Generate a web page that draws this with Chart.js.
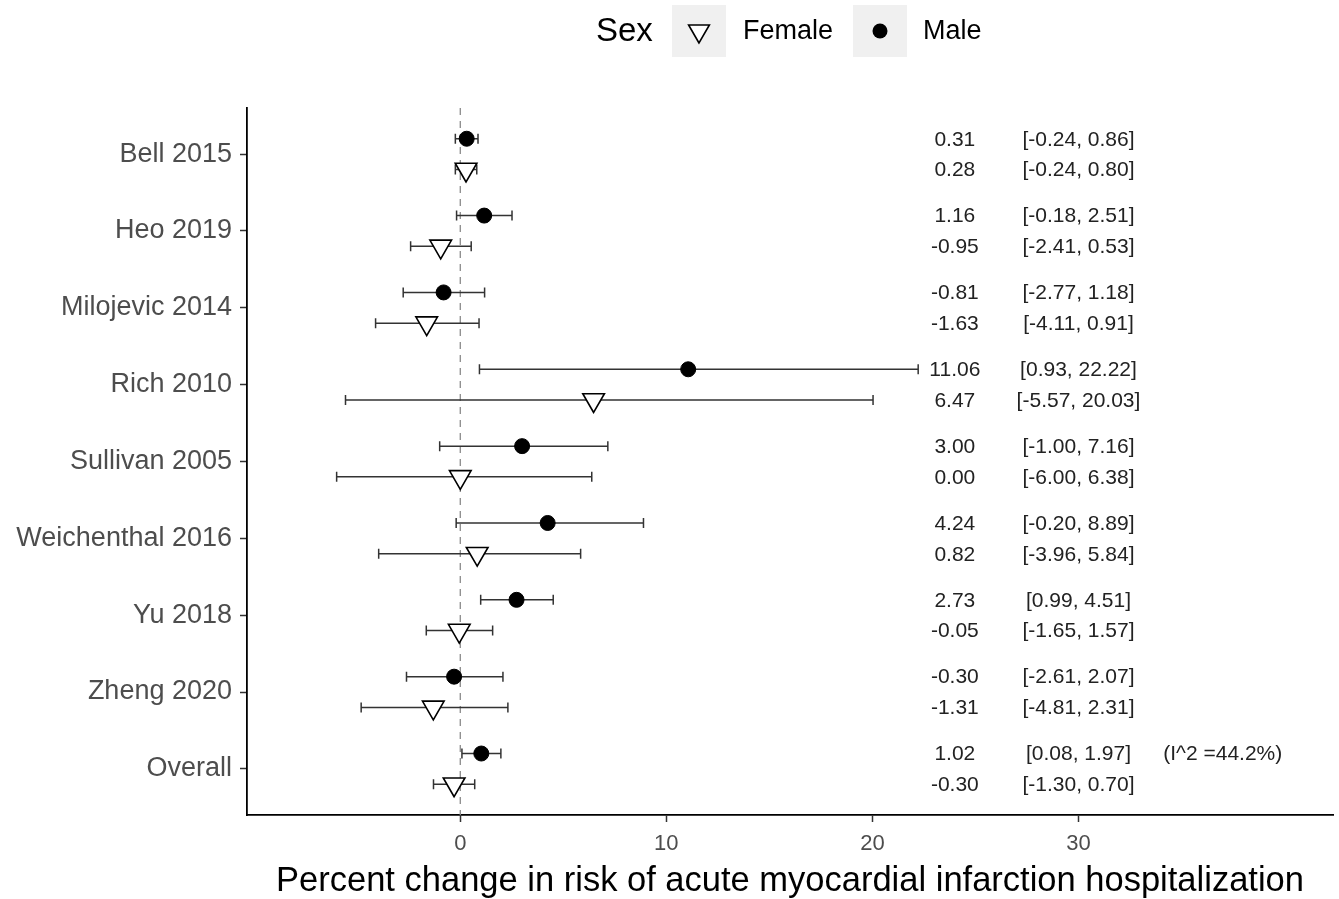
<!DOCTYPE html>
<html><head><meta charset="utf-8">
<script src="https://cdn.jsdelivr.net/npm/chart.js@4.4.1/dist/chart.umd.min.js"></script>
<style>html,body{margin:0;padding:0;background:#fff}#wrap{width:1339px;height:899px;position:relative}</style>
</head><body><div id="wrap"><canvas id="c" width="1339" height="899"></canvas></div>
<script>
const studies = ['Bell 2015','Heo 2019','Milojevic 2014','Rich 2010','Sullivan 2005','Weichenthal 2016','Yu 2018','Zheng 2020','Overall'];
const maleEst  = [0.31, 1.16, -0.81, 11.06, 3.00, 4.24, 2.73, -0.30, 1.02];
const maleLow  = [-0.24, -0.18, -2.77, 0.93, -1.00, -0.20, 0.99, -2.61, 0.08];
const maleHigh = [0.86, 2.51, 1.18, 22.22, 7.16, 8.89, 4.51, 2.07, 1.97];
const femaleEst  = [0.28, -0.95, -1.63, 6.47, 0.00, 0.82, -0.05, -1.31, -0.30];
const femaleLow  = [-0.24, -2.41, -4.11, -5.57, -6.00, -3.96, -1.65, -4.81, -1.30];
const femaleHigh = [0.80, 0.53, 0.91, 20.03, 6.38, 5.84, 1.57, 2.31, 0.70];
const xTicks = [0, 10, 20, 30];
const refValue = 0;
const heterogeneity = '(I^2 =44.2%)';
const legendTitle = 'Sex';
const legendLabels = ['Female', 'Male'];
const xTitle = 'Percent change in risk of acute myocardial infarction hospitalization';

const FONT = '"Liberation Sans", Arial, Helvetica, sans-serif';
const OFF = 0.2;
const fmt = v => v.toFixed(2);
const ci = (lo, hi) => '[' + fmt(lo) + ', ' + fmt(hi) + ']';

const errorBars = {
  id: 'errorBars',
  afterDatasetDraw(chart, args) {
    if (args.index !== 2) return;
    const x = chart.scales.x, y = chart.scales.y, ctx = chart.ctx;
    ctx.save();
    ctx.strokeStyle = '#333';
    ctx.lineWidth = 1.5;
    const draw = (lo, hi, yv) => {
      const x1 = x.getPixelForValue(lo), x2 = x.getPixelForValue(hi), py = y.getPixelForValue(yv);
      ctx.beginPath();
      ctx.moveTo(x1, py); ctx.lineTo(x2, py);
      ctx.moveTo(x1, py - 5); ctx.lineTo(x1, py + 5);
      ctx.moveTo(x2, py - 5); ctx.lineTo(x2, py + 5);
      ctx.stroke();
    };
    studies.forEach((s, i) => {
      draw(maleLow[i], maleHigh[i], i - OFF);
      draw(femaleLow[i], femaleHigh[i], i + OFF);
    });
    ctx.restore();
  }
};

const annotations = {
  id: 'annotations',
  afterDraw(chart) {
    const x = chart.scales.x, y = chart.scales.y, ctx = chart.ctx;
    ctx.save();
    ctx.font = '21px ' + FONT;
    ctx.fillStyle = '#222';
    ctx.textAlign = 'center';
    ctx.textBaseline = 'middle';
    studies.forEach((s, i) => {
      const ym = y.getPixelForValue(i - OFF) + 1, yf = y.getPixelForValue(i + OFF) + 1;
      ctx.fillText(fmt(maleEst[i]), x.getPixelForValue(24), ym);
      ctx.fillText(ci(maleLow[i], maleHigh[i]), x.getPixelForValue(30), ym);
      ctx.fillText(fmt(femaleEst[i]), x.getPixelForValue(24), yf);
      ctx.fillText(ci(femaleLow[i], femaleHigh[i]), x.getPixelForValue(30), yf);
    });
    ctx.fillText(heterogeneity, x.getPixelForValue(37), y.getPixelForValue(studies.length - 1 - OFF) + 1);

    // legend
    const cy = 31;
    ctx.textAlign = 'left';
    ctx.fillStyle = '#000';
    ctx.font = '33px ' + FONT;
    ctx.fillText(legendTitle, 596, cy + 1);
    ctx.fillStyle = '#f0f0f0';
    ctx.fillRect(672, 5, 54, 52);
    ctx.fillRect(853, 5, 54, 52);
    const r = 12;
    ctx.beginPath();
    for (let k = 0; k < 3; k++) {
      const a = Math.PI + k * 2 * Math.PI / 3;
      const px = 699 + Math.sin(a) * r, py = cy - Math.cos(a) * r;
      if (k === 0) ctx.moveTo(px, py); else ctx.lineTo(px, py);
    }
    ctx.closePath();
    ctx.fillStyle = '#fff';
    ctx.fill();
    ctx.strokeStyle = '#000';
    ctx.lineWidth = 1.6;
    ctx.stroke();
    ctx.beginPath();
    ctx.arc(880, cy, 7.5, 0, Math.PI * 2);
    ctx.fillStyle = '#000';
    ctx.fill();
    ctx.font = '27px ' + FONT;
    ctx.fillText(legendLabels[0], 743, cy + 1);
    ctx.fillText(legendLabels[1], 923, cy + 1);
    ctx.restore();
  }
};

new Chart(document.getElementById('c'), {
  type: 'scatter',
  data: {
    datasets: [
      {
        label: 'Male',
        data: studies.map((s, i) => ({ x: maleEst[i], y: i - OFF })),
        pointStyle: 'circle', pointRadius: 7.5,
        backgroundColor: '#000', borderColor: '#000', borderWidth: 1, order: 0
      },
      {
        label: 'Female',
        data: studies.map((s, i) => ({ x: femaleEst[i], y: i + OFF })),
        pointStyle: 'triangle', pointRotation: 180, pointRadius: 12.5,
        backgroundColor: '#fff', borderColor: '#000', borderWidth: 1.6, order: 1
      },
      {
        label: 'ref',
        data: [{ x: refValue, y: -0.6 }, { x: refValue, y: studies.length - 0.4 }],
        showLine: true, pointRadius: 0, borderColor: '#8a8a8a', borderWidth: 1.3,
        borderDash: [7, 6], order: 5
      }
    ]
  },
  options: {
    responsive: false,
    animation: false,
    events: [],
    layout: { autoPadding: false, padding: { top: 108, right: 6, bottom: 0, left: 0 } },
    plugins: { legend: { display: false }, tooltip: { enabled: false } },
    scales: {
      x: {
        type: 'linear', min: -10.35, max: 42.35,
        afterBuildTicks: s => { s.ticks = xTicks.map(v => ({ value: v })); },
        afterFit: s => { s.height = 84; s.paddingLeft = 0; s.paddingRight = 0; },
        ticks: { font: { family: FONT, size: 22 }, color: '#4d4d4d', padding: 9, maxRotation: 0, autoSkip: false },
        grid: { display: true, drawOnChartArea: false, drawTicks: true, tickLength: 7, tickColor: '#333', tickWidth: 1.5 },
        border: { display: true, color: '#000', width: 1.8 },
        title: { display: true, text: xTitle, font: { family: FONT, size: 34.5, lineHeight: 1.0 }, color: '#000', padding: { top: 0, bottom: 0 } }
      },
      y: {
        type: 'linear', reverse: true, min: -0.6, max: studies.length - 0.4,
        afterBuildTicks: s => { s.ticks = studies.map((_, i) => ({ value: i })); },
        afterFit: s => { s.width = 247; s.paddingTop = 0; s.paddingBottom = 0; },
        ticks: { callback: v => studies[v], font: { family: FONT, size: 27 }, color: '#4d4d4d', padding: 8, autoSkip: false },
        grid: { display: true, drawOnChartArea: false, drawTicks: true, tickLength: 7, tickColor: '#333', tickWidth: 1.5 },
        border: { display: true, color: '#000', width: 1.8 }
      }
    }
  },
  plugins: [errorBars, annotations]
});
</script>
</body></html>
